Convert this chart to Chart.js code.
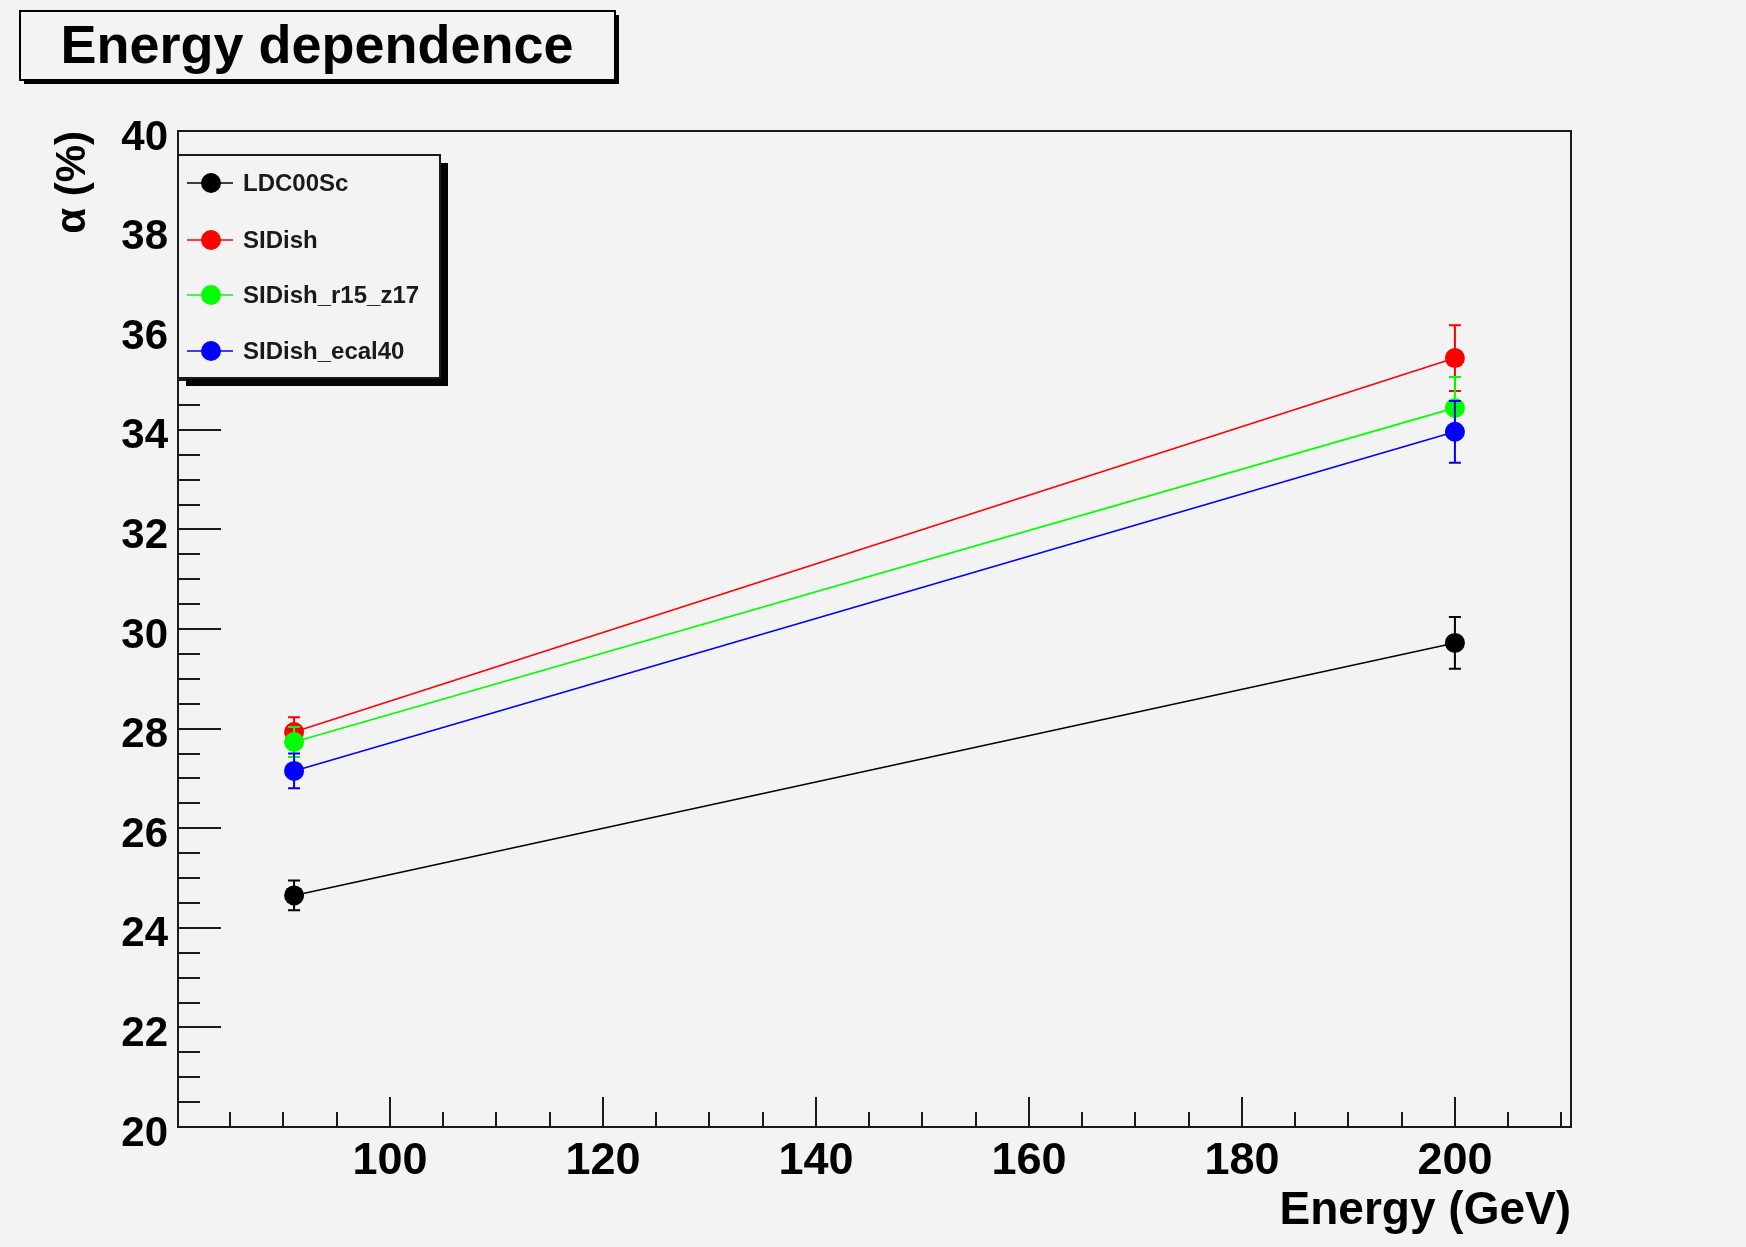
<!DOCTYPE html>
<html>
<head>
<meta charset="utf-8">
<script src="https://cdn.jsdelivr.net/npm/chart.js@4.4.1/dist/chart.umd.min.js"></script>
<style>
html, body { margin: 0; padding: 0; background: #f3f3f3; }
canvas { display: block; }
</style>
</head>
<body>
<canvas id="energyDep" width="1746" height="1247"></canvas>
<script>
// Data
var energies = [91, 200]
var names = ['LDC00Sc', 'SIDish', 'SIDish_r15_z17', 'SIDish_ecal40']
var colors = ['#000000', '#ff0000', '#00ff00', '#0000ff']
var ldc = [24.65, 29.72]
var ldcErr = [0.30, 0.52]
var sid = [27.93, 35.44]
var sidErr = [0.30, 0.66]
var sidR15 = [27.73, 34.44]
var sidR15Err = [0.30, 0.62]
var sidEcal = [27.15, 33.96]
var sidEcalErr = [0.35, 0.62]
var xTicks = [100, 120, 140, 160, 180, 200]
var yTicks = [20, 22, 24, 26, 28, 30, 32, 34, 36, 38, 40]

var values = [ldc, sid, sidR15, sidEcal]
var errors = [ldcErr, sidErr, sidR15Err, sidEcalErr]

var FONT = "'Liberation Sans', Arial, sans-serif"
var BG = '#f3f3f3'

// ROOT-like frame, inward ticks, error bars, title box and legend
var rootLook = {
    id: 'rootLook',
    beforeDraw(chart) {
        var ctx = chart.ctx
        ctx.save()
        ctx.fillStyle = BG
        ctx.fillRect(0, 0, chart.width, chart.height)
        ctx.restore()
    },
    beforeDatasetsDraw(chart) {
        var ctx = chart.ctx
        var a = chart.chartArea
        var xs = chart.scales.x, ys = chart.scales.y
        ctx.save()
        ctx.strokeStyle = '#1a1a1a'
        ctx.lineWidth = 2
        ctx.strokeRect(a.left, a.top, a.right - a.left, a.bottom - a.top)
        // x ticks, every 5, major every 20
        for (var v = Math.ceil(xs.min / 5) * 5; v <= xs.max; v += 5) {
            var px = Math.round(xs.getPixelForValue(v))
            var len = (v % 20 === 0) ? 30 : 15
            ctx.beginPath()
            ctx.moveTo(px, a.bottom)
            ctx.lineTo(px, a.bottom - len)
            ctx.stroke()
        }
        // y ticks, every 0.5, major every 2
        for (var w = ys.min; w <= ys.max + 1e-9; w += 0.5) {
            var py = Math.round(ys.getPixelForValue(w))
            var l = (Math.abs(w % 2) < 1e-9) ? 43 : 22
            ctx.beginPath()
            ctx.moveTo(a.left, py)
            ctx.lineTo(a.left + l, py)
            ctx.stroke()
        }
        ctx.restore()
    },
    beforeDatasetDraw(chart, args) {
        var ctx = chart.ctx
        var ds = chart.data.datasets[args.index]
        var xs = chart.scales.x, ys = chart.scales.y
        ctx.save()
        ctx.strokeStyle = ds.borderColor
        ctx.lineWidth = 2
        ds.data.forEach(function (p, i) {
            var px = xs.getPixelForValue(p.x)
            var top = ys.getPixelForValue(p.y + ds.errors[i])
            var bot = ys.getPixelForValue(p.y - ds.errors[i])
            ctx.beginPath()
            ctx.moveTo(px, top); ctx.lineTo(px, bot)
            ctx.moveTo(px - 6, top); ctx.lineTo(px + 6, top)
            ctx.moveTo(px - 6, bot); ctx.lineTo(px + 6, bot)
            ctx.stroke()
        })
        ctx.restore()
    },
    afterDatasetsDraw(chart) {
        var ctx = chart.ctx
        ctx.save()
        // title box
        ctx.fillStyle = '#000'
        ctx.fillRect(24, 15, 595, 69)
        ctx.fillStyle = BG
        ctx.fillRect(20, 11, 595, 69)
        ctx.strokeStyle = '#000'
        ctx.lineWidth = 2
        ctx.strokeRect(20, 11, 595, 69)
        ctx.fillStyle = '#000'
        ctx.font = 'bold 54px ' + FONT
        ctx.textAlign = 'center'
        ctx.textBaseline = 'alphabetic'
        ctx.fillText('Energy dependence', 317, 63)

        // legend box
        var lx = 178, ly = 155, lw = 262, lh = 223
        ctx.fillStyle = '#000'
        ctx.fillRect(lx + 8, ly + 8, lw, lh)
        ctx.fillStyle = BG
        ctx.fillRect(lx, ly, lw, lh)
        ctx.strokeStyle = '#1a1a1a'
        ctx.lineWidth = 2
        ctx.strokeRect(lx, ly, lw, lh)
        var rows = [183, 240, 295, 351]
        ctx.font = 'bold 24px ' + FONT
        ctx.textAlign = 'left'
        ctx.textBaseline = 'middle'
        chart.data.datasets.forEach(function (ds, i) {
            var y = rows[i]
            ctx.strokeStyle = ds.borderColor
            ctx.lineWidth = 1.5
            ctx.beginPath()
            ctx.moveTo(187, y); ctx.lineTo(233, y)
            ctx.stroke()
            ctx.fillStyle = ds.borderColor
            ctx.beginPath()
            ctx.arc(211, y, 10, 0, Math.PI * 2)
            ctx.fill()
            ctx.fillStyle = '#1a1a1a'
            ctx.fillText(ds.label, 243, y + 1)
        })
        ctx.restore()
    }
}

var datasets = names.map(function (n, k) {
    return {
        label: n,
        data: energies.map(function (x, i) { return { x: x, y: values[k][i] } }),
        errors: errors[k],
        borderColor: colors[k],
        backgroundColor: colors[k],
        borderWidth: 1.6,
        pointRadius: 10,
        pointHoverRadius: 10,
        pointBorderWidth: 0,
        order: names.length - k
    }
})

var ctx = document.getElementById('energyDep').getContext('2d')
var chart = new Chart(ctx, {
    type: 'line',
    data: { datasets: datasets },
    plugins: [rootLook],
    options: {
        responsive: false,
        devicePixelRatio: 1,
        animation: false,
        layout: { padding: { left: 48, top: 131, right: 175, bottom: 0 } },
        plugins: { legend: { display: false }, tooltip: { enabled: false } },
        scales: {
            x: {
                type: 'linear',
                min: 80.1,
                max: 210.9,
                afterBuildTicks: function (s) { s.ticks = xTicks.map(function (v) { return { value: v } }) },
                afterFit: function (s) { s.height = 120 },
                grid: { display: false, drawTicks: false },
                border: { display: false },
                ticks: { color: '#000', padding: 8, maxRotation: 0, autoSkip: false,
                    font: { family: FONT, size: 45, weight: 'bold' } },
                title: { display: true, text: 'Energy (GeV)', align: 'end', color: '#000',
                    padding: { top: 0, bottom: 8 },
                    font: { family: FONT, size: 46, weight: 'bold' } }
            },
            y: {
                min: 20,
                max: 40,
                afterBuildTicks: function (s) { s.ticks = yTicks.map(function (v) { return { value: v } }) },
                afterFit: function (s) { s.width = 130 },
                grid: { display: false, drawTicks: false },
                border: { display: false },
                ticks: { color: '#000', padding: 10, labelOffset: 7,
                    font: { family: FONT, size: 42, weight: 'bold' } },
                title: { display: true, text: 'α (%)', align: 'end', color: '#000',
                    padding: 0,
                    font: { family: FONT, size: 42, weight: 'bold' } }
            }
        }
    }
})
</script>
</body>
</html>
